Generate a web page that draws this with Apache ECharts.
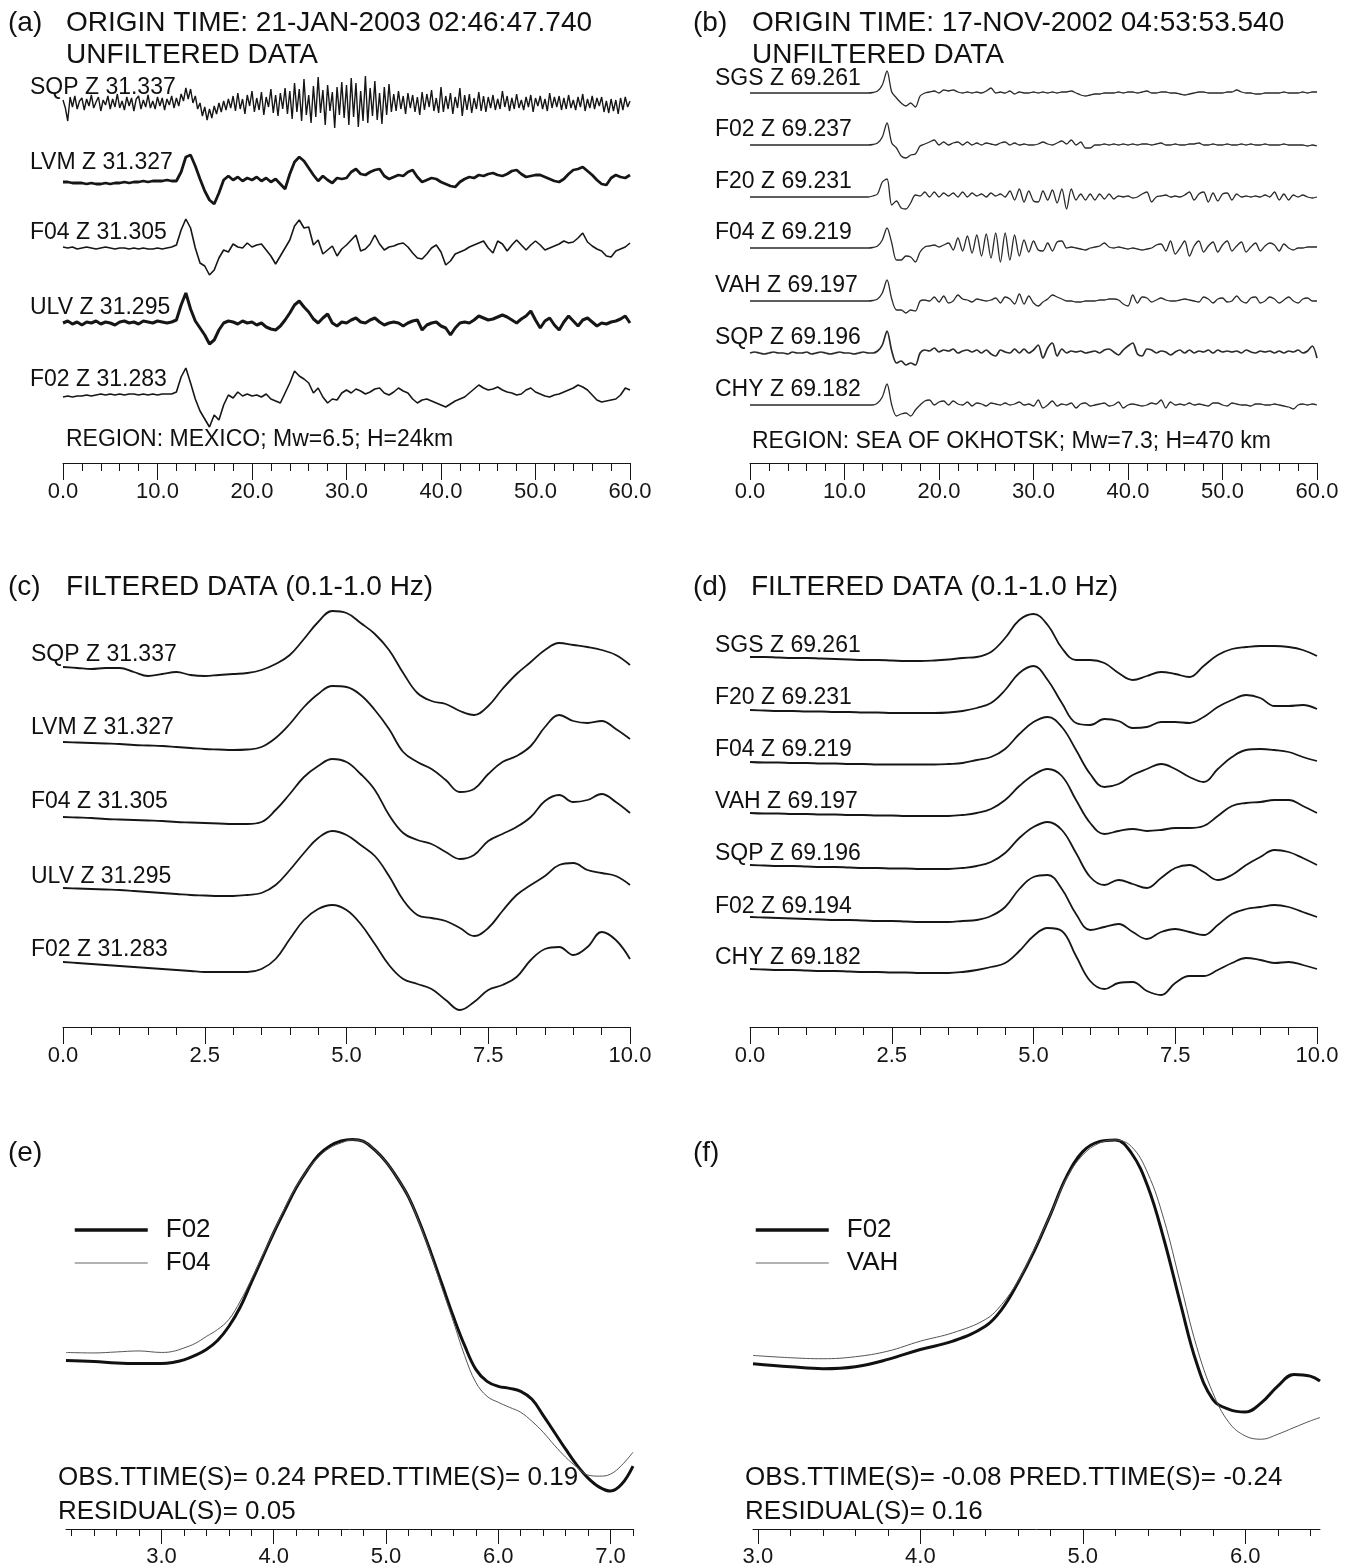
<!DOCTYPE html>
<html><head><meta charset="utf-8">
<script src="https://cdn.jsdelivr.net/npm/echarts@6/dist/echarts.min.js"></script>
<style>html,body{margin:0;padding:0;background:#fff}#c{width:1349px;height:1568px}</style>
</head><body><div id="c"></div><script>
// ---------------- DATA ----------------
// Panel (a) unfiltered, Mexico event; amplitudes (relative, up = positive); t from 0 s
const aStations = ['SQP Z 31.337','LVM Z 31.327','F04 Z 31.305','ULV Z 31.295','F02 Z 31.283'];
const aStep = 0.5, aSqpStep = 0.25;
const a_SQP = [3,-5,-18,6,-4,7,-6,2,5,-7,4,-3,8,-5,1,6,-8,3,-2,7,-6,4,-4,9,-5,2,-7,6,-3,5,-8,4,7,-6,3,-4,8,-5,2,-6,6,-3,5,-7,4,-2,7,-5,
5,-3,9,2,15,4,14,0,7,-6,0,-13,-4,-17,-6,-15,-3,-11,0,-9,2,-7,4,-5,
7,-8,10,-6,4,-11,8,-3,12,-9,5,-7,11,-12,6,-4,14,-10,8,-13,10,-6,15,-11,
12,-16,20,-9,14,-18,24,-12,8,-20,17,-14,26,-10,13,-22,18,-8,11,-25,16,-12,21,-15,
18,-22,25,-14,20,-24,12,-18,27,-20,15,-13,22,-17,10,-21,16,-12,19,-9,
9,-8,12,-6,7,-11,10,-5,8,-9,6,-12,11,-7,9,-4,13,-8,5,-10,16,-9,7,-6,10,-11,6,-5,15,-13,8,-7,9,-10,5,-6,11,-8,7,-9,
6,-5,8,-7,4,-6,12,-4,7,-8,5,-6,9,-5,3,-7,6,-4,8,-9,5,-3,7,-6,4,-8,10,-5,6,-4,7,-7,5,-6,8,-5,3,-7,6,-4,9,-8,4,-5,7,-6,5,-3,6,-9,2,-10,4,-8,3,-11,5,-7,6,-4,2];
const a_LVM = [0,0,-1,-1,-1,-2,-1,-2,-2,-1,-2,-1,-1,0,-1,0,0,1,0,1,1,1,2,1,
1,10,25,27,16,3,-9,-18,-22,-11,2,6,2,5,1,4,2,5,1,4,0,3,-2,-7,8,20,25,21,14,7,1,6,2,-1,4,3,
4,10,13,8,7,10,12,13,6,3,5,7,6,10,12,5,0,2,4,3,0,-2,-4,-5,0,3,5,4,7,6,8,9,7,6,8,11,12,8,5,6,7,7,5,3,1,0,3,8,12,13,15,11,7,2,-2,-3,4,7,5,4,7];
const a_F04 = [1,0,1,-1,0,1,0,-1,0,1,0,-1,0,0,-1,0,-1,0,-1,-1,0,-1,0,1,
3,18,29,20,0,-15,-18,-27,-22,-10,-2,-4,4,1,0,5,1,3,4,-2,-8,-16,-8,0,8,22,28,20,21,3,8,-6,-2,2,-8,-1,
3,8,13,-3,-1,4,13,4,-2,1,2,4,5,1,-5,-10,-11,-6,0,3,-4,-17,-13,-6,-4,-2,1,3,5,7,0,-5,7,4,-3,3,8,3,-2,3,7,3,-2,0,2,4,7,5,6,10,15,6,2,-1,-3,-8,-9,-3,-1,1,5];
const a_ULV = [0,2,-1,1,-2,1,0,2,-1,1,0,-2,1,2,0,1,-1,2,1,0,2,1,0,1,
3,18,30,14,2,-5,-12,-21,-17,-7,0,2,1,-1,2,0,1,-2,0,-4,-6,-7,-3,3,10,18,22,16,11,4,0,5,9,0,-3,1,
0,3,5,1,0,3,5,1,-2,0,1,0,-3,0,2,3,-7,-2,0,1,-3,-5,-12,-5,0,1,0,3,7,5,3,4,6,8,6,3,0,4,7,12,3,-5,2,5,-2,-7,1,7,2,-3,3,5,1,-3,0,-1,1,2,4,7,0];
const a_F02 = [-2,-1,-2,-1,-1,0,-1,0,1,0,1,0,1,0,1,1,0,1,0,1,0,1,1,1,
3,18,27,12,-4,-16,-24,-32,-20,-25,-10,0,-3,3,-1,1,-1,0,-2,1,-4,-6,-8,2,12,24,19,16,12,2,7,-2,-8,-4,-5,2,
5,2,6,4,1,3,6,7,2,0,3,7,4,2,-4,-8,-5,-4,-6,-8,-10,-12,-9,-6,-4,-2,2,6,10,7,5,6,8,5,3,2,0,1,5,7,3,1,-1,-2,0,1,3,5,7,10,8,5,0,-5,-7,-6,-5,-4,0,7,5];

// Panel (b) unfiltered, Sea of Okhotsk event; t from 0 s, step 0.5 s
const bStations = ['SGS Z 69.261','F02 Z 69.237','F20 Z 69.231','F04 Z 69.219','VAH Z 69.197','SQP Z 69.196','CHY Z 69.182'];
const bStep = 0.5;
const b_SGS = [0,0,0,0,0,0,0,0,0,0,0,0,0,0,0,0,0,0,0,0,0,0,0,0,0,0,
0.5,2,8,22,1,-5,-10,-13,-10,-14,-3,0,1,2,0,3,2,3,1,0,1,0,1,0,2,5,0,1,0,2,-1,1,0,0,
1,0,1,0,1,0,1,1,2,0,-2,-3,-2,-1,-1,0,0,0,1,0,1,1,0,1,2,0,0,1,1,0,0,-1,-2,-1,0,1,1,0,0,0,0,1,1,3,1,0,0,-1,-1,0,0,0,0,1,0,0,0,1,0,1,1];
const b_F02 = [0,0,0,0,0,0,0,0,0,0,0,0,0,0,0,0,0,0,0,0,0,0,0,0,0,0,
0.5,2,8,22,2,-3,-11,-13,-10,-9,-1,1,3,5,0,3,0,2,3,0,3,0,2,0,2,1,0,2,3,0,2,0,1,0,
0,1,3,1,0,2,4,1,5,0,3,-3,-3,0,0,1,0,1,0,1,0,1,0,1,1,0,1,2,0,0,1,0,0,1,1,2,0,0,1,0,0,1,0,0,1,0,1,0,0,1,0,0,0,1,0,0,0,0,-1,0,-1];
const b_F20 = [0,0,0,0,0,0,0,0,0,0,0,0,0,0,0,0,0,0,0,0,0,0,0,0,0,0,
1,3,15,18,-8,-4,-11,-12,-6,2,1,5,0,5,0,4,1,4,0,5,0,4,1,3,0,4,1,3,0,6,-3,8,-5,6,
-4,-5,6,-3,7,-6,8,-12,8,-3,3,-3,3,-3,3,-2,3,-2,1,0,1,-1,0,3,5,-5,0,1,2,0,1,0,2,5,-3,3,5,-5,4,-4,3,4,-3,3,0,1,0,1,0,2,0,5,-3,3,-3,2,0,2,0,-1,0];
const b_F04 = [0,0,0,0,0,0,0,0,0,0,0,0,0,0,0,0,0,0,0,0,0,0,0,0,0,0,
0.5,2,8,20,5,-12,-12,-8,-9,-14,-4,1,2,3,1,3,5,-2,10,-3,12,-5,13,-8,14,-10,15,-14,15,-12,13,-8,8,-4,
7,-2,-3,5,-3,6,7,0,1,0,-1,-2,0,1,2,5,1,0,1,0,-1,0,-1,-2,-1,0,3,4,-3,7,-6,0,7,-8,2,7,-4,2,6,-4,3,7,-3,2,6,-4,1,5,-3,2,5,3,-3,4,0,-2,0,0,1,1,1];
const b_VAH = [0,0,0,0,0,0,0,0,0,0,0,0,0,0,0,0,0,0,0,0,0,0,0,0,0,0,
0.5,2,8,21,2,-9,-9,-12,-9,-10,0,1,0,4,-1,5,-2,0,6,2,1,-1,2,1,0,1,3,-2,4,2,-3,7,-3,5,
-2,-5,-1,2,6,4,2,0,0,-1,-1,0,0,0,1,1,2,2,1,-3,-5,6,-2,4,3,-1,1,3,1,0,0,1,2,1,0,-1,4,2,-2,2,3,-1,0,5,0,-2,3,4,-2,0,4,2,-2,1,4,0,-2,2,3,0,0];
const b_SQP = [0,1,0,-1,0,1,0,0,-1,1,0,0,1,-1,0,1,0,-1,0,1,0,0,-1,0,1,0,
0,2,8,22,2,-10,-8,-12,-10,-12,0,3,2,5,1,3,2,4,0,2,3,1,3,0,3,-1,-3,3,1,0,4,0,4,0,
3,8,-5,5,10,-3,4,0,2,1,2,0,1,2,0,3,4,1,-2,3,7,10,-1,-3,4,3,0,2,1,-2,1,3,0,3,0,2,1,3,0,3,1,2,1,2,0,3,1,0,2,1,2,0,2,0,2,1,3,0,2,7,-5];
const b_CHY = [0,0,0,0,0,0,0,0,0,0,0,0,0,0,0,0,0,0,0,0,0,0,0,0,0,0,
0,2,8,21,0,-11,-9,-8,-11,-5,0,4,5,0,3,4,0,4,1,0,3,-1,2,1,-1,2,1,0,2,0,1,3,0,1,
-1,5,-3,0,4,-1,1,0,2,-3,1,2,-1,0,1,2,-1,0,3,-3,0,1,0,-1,0,2,1,5,-3,3,0,1,0,2,0,1,0,-1,2,2,0,-1,2,1,0,0,-1,1,1,0,0,1,0,-1,-2,-4,0,1,0,1,0];

// Panel (c) filtered, Mexico; t from 0 s, step 0.25 s
const cStations = ['SQP Z 31.337','LVM Z 31.327','F04 Z 31.305','ULV Z 31.295','F02 Z 31.283'];
const cStep = 0.25;
const c_SQP = [0,-1,-2,-1,-1,-5,-9,-7,-5,-8,-9,-8,-7,-6,-3,3,12,28,45,56,54,44,33,17,-6,-26,-34,-37,-44,-48,-39,-22,-7,5,17,24,22,20,17,12,2];
const c_LVM = [0,-0.5,-1,-1.5,-2,-3,-3.5,-4,-5,-6,-7,-7.5,-8,-7.5,-5,4,18,35,48,56,55,47,32,13,-10,-20,-27,-38,-50,-47,-32,-20,-14,-4,15,27,21,19,21,13,3];
const c_F04 = [0,-0.5,-1,-2,-2.5,-3,-3.5,-4,-5,-5.5,-6,-6.5,-7,-7,-5,7,23,40,51,58,55,43,27,2,-16,-23,-27,-35,-42,-38,-24,-17,-10,0,16,22,15,17,23,15,4];
const c_ULV = [0,-0.5,-1,-1.5,-2,-3,-4,-5,-6,-7,-7.5,-8,-8,-7,-5,3,18,35,50,57,53,43,32,12,-12,-27,-30,-33,-40,-48,-40,-23,-7,3,12,23,25,18,15,12,3];
const c_F02 = [0,-1,-2,-3,-4,-5,-6,-7,-8,-9,-10,-10,-10,-10,-7,3,23,42,53,57,52,38,18,-3,-17,-22,-27,-38,-48,-40,-28,-23,-15,2,13,15,7,15,30,22,3];

// Panel (d) filtered, Sea of Okhotsk; t from 0 s, step 0.25 s
const dStations = ['SGS Z 69.261','F20 Z 69.231','F04 Z 69.219','VAH Z 69.197','SQP Z 69.196','F02 Z 69.194','CHY Z 69.182'];
const dStep = 0.25;
const d_SGS = [0,0,-0.5,-1,-1,-1.5,-2,-2.5,-3,-3,-3.5,-4,-4,-3.5,-2.5,-1,0,5,19,37,43,32,9,-3,-3,-6,-16,-23,-19,-15,-17,-20,-9,2,8,10,11,11,10,7,1];
const d_F20 = [0,-0.5,-1,-1,-1.5,-1.5,-2,-2,-2.5,-2.5,-3,-3,-3,-3,-2.5,-1,2,7,20,37,44,30,7,-13,-15,-9,-11,-18,-17,-12,-12,-13,-7,3,10,15,12,4,4,5,1];
const d_F04 = [0,-0.5,-0.5,-1,-1,-1.5,-1.5,-2,-2,-2.5,-2.5,-2.5,-2.5,-2.5,-2,-1,2,5,13,28,40,45,35,12,-12,-25,-22,-13,-7,-2,-7,-15,-20,-7,5,12,13,12,10,5,1];
const d_VAH = [0,-0.5,-0.5,-1,-1,-1.5,-1.5,-2,-2,-2.5,-2.5,-3,-3,-3,-3,-2,0,4,13,27,38,44,37,13,-10,-21,-18,-16,-18,-17,-15,-15,-13,-3,7,10,11,13,13,7,0];
const d_SQP = [0,-0.5,-1,-1,-1.5,-2,-2,-2.5,-3,-3,-3.5,-3.5,-4,-4,-4,-3,-1,3,12,27,38,43,35,12,-12,-20,-15,-19,-23,-13,-3,0,-7,-15,-10,0,8,15,13,7,0];
const d_F02 = [0,-0.5,-1,-1.5,-2,-2.5,-3,-3,-3.5,-4,-4,-4.5,-5,-5,-5,-4,-3,1,10,28,40,42,28,3,-13,-10,-7,-15,-22,-15,-12,-15,-18,-8,3,8,10,12,10,5,0];
const d_CHY = [0,-0.5,-1,-1,-1.5,-2,-2,-2.5,-3,-3,-3.5,-3.5,-4,-4,-4,-3,-1,2,6,18,33,41,38,13,-12,-20,-14,-13,-22,-26,-14,-7,-7,-1,6,11,9,6,7,4,0];

// Panel (e) waveform comparison F02 vs F04
const eTimes = [2.15,2.4,2.6,2.8,3.0,3.1,3.2,3.3,3.4,3.5,3.6,3.7,3.8,3.9,4.0,4.1,4.2,4.3,4.4,4.5,4.6,4.7,4.8,4.9,5.0,5.1,5.2,5.3,5.4,5.5,5.6,5.7,5.8,5.9,6.0,6.1,6.2,6.3,6.4,6.5,6.6,6.7,6.8,6.9,7.0,7.1,7.2];
const e_F02 = [169,168,166.5,166,166,167,169.5,174,180,189,203,222,247,272,297,320,342,360,375,384,389,390.5,388.5,380,368,352,333,307,277,245,213,184,160,148,143,141,138,130,114,97,80,64,51,42,38,45,63];
const e_F04 = [177,176.5,177.5,178.5,177,178,181.5,186,193,200,210,228,250,274,298,322,343,360,373,382,387,390,388.5,380,368,352,333,306,275,241,208,174,147,133,127,122,117,108,97,84,72,62,54,53,55,64,77];
const eTickLabels = [3.0,4.0,5.0,6.0,7.0];
// Panel (f) waveform comparison F02 vs VAH
const fTimes = [2.97,3.2,3.4,3.6,3.8,4.0,4.2,4.4,4.5,4.6,4.7,4.8,4.9,5.0,5.1,5.2,5.3,5.4,5.5,5.6,5.7,5.8,5.9,6.0,6.1,6.2,6.3,6.4,6.46];
const f_F02 = [165.7,162.7,160.7,162.7,170,180,188.3,203.3,220,246.7,278.3,315,353.3,378.3,388.3,390,376.7,343.3,290,226.7,166.7,130,120,117.3,126.7,143.3,155,153.3,148.3];
const f_VAH = [174,171.7,170.7,172.7,178.3,188.3,196.7,210,225,248.3,280,315,351.7,375,386.7,390,383.3,356.7,310,246.7,183.3,136.7,106.7,93.3,90,95,101.7,108.3,111.7];
const fTickLabels = [3.0,4.0,5.0,6.0];

// ---------------- CHART ----------------
const FONT = '"Liberation Sans", Arial, Helvetica, sans-serif';
const INK = '#161616';
const chart = echarts.init(document.getElementById('c'), null, {renderer: 'canvas'});
const series = [];
function addTrace(name, arr, t0, dt, base, xi, yi, width, smooth, color) {
  const c = color || INK;
  series.push({
    name, type: 'line', xAxisIndex: xi, yAxisIndex: yi,
    data: arr.map((v, i) => [t0 + i * dt, base + v]),
    symbol: 'none', showSymbol: false, silent: true, clip: false,
    smooth: smooth || false, lineStyle: {color: c, width}, itemStyle: {color: c},
    emphasis: {disabled: true}
  });
}
function addXY(name, xs, ys, xi, yi, width, color) {
  series.push({
    name, type: 'line', xAxisIndex: xi, yAxisIndex: yi,
    data: xs.map((x, i) => [x, ys[i]]),
    symbol: 'none', showSymbol: false, silent: true, clip: false,
    smooth: 0.4, lineStyle: {color, width}, itemStyle: {color}, emphasis: {disabled: true}
  });
}
// (a)
const aBase = [360, 281, 215, 140, 68];
addTrace('a SQP', a_SQP, 0, aSqpStep, aBase[0], 0, 0, 1.4);
addTrace('a LVM', a_LVM, 0, aStep, aBase[1], 0, 0, 2.8);
addTrace('a F04', a_F04, 0, aStep, aBase[2], 0, 0, 1.6);
addTrace('a ULV', a_ULV, 0, aStep, aBase[3], 0, 0, 3);
addTrace('a F02', a_F02, 0, aStep, aBase[4], 0, 0, 1.6);
// (b)
const bBase = [370, 318, 266, 215, 162, 110, 58];
[b_SGS, b_F02, b_F20, b_F04, b_VAH, b_SQP, b_CHY].forEach((arr, k) =>
  addTrace('b ' + bStations[k], arr, 0, bStep, bBase[k], 1, 1, k === 5 ? 1.7 : 1.3, 0.3, '#2a2a2a'));
// (c)
const cBase = [360, 285, 210, 139, 65];
[c_SQP, c_LVM, c_F04, c_ULV, c_F02].forEach((arr, k) =>
  addTrace('c ' + cStations[k], arr, 0, cStep, cBase[k], 2, 2, 1.8, 0.4));
// (d)
const dBase = [370, 317, 265, 214, 162, 110, 58];
[d_SGS, d_F20, d_F04, d_VAH, d_SQP, d_F02, d_CHY].forEach((arr, k) =>
  addTrace('d ' + dStations[k], arr, 0, dStep, dBase[k], 3, 3, 1.8, 0.4));
// (e), (f)
addXY('F02', eTimes, e_F02, 4, 4, 3, '#111');
addXY('F04', eTimes, e_F04, 4, 4, 1, '#555');
addXY('F02', fTimes, f_F02, 6, 5, 3, '#111');
addXY('VAH', fTimes, f_VAH, 6, 5, 1, '#555');

function timeAxis(grid, min, max, interval) {
  return {
    type: 'value', gridIndex: grid, min, max, interval, position: 'bottom',
    axisLine: {show: true, onZero: false, lineStyle: {color: INK, width: 1}},
    axisTick: {show: true, length: 17, lineStyle: {color: INK, width: 1}},
    minorTick: {show: true, splitNumber: 5, length: 8, lineStyle: {color: INK, width: 1}},
    splitLine: {show: false}, minorSplitLine: {show: false},
    axisLabel: {show: true, margin: 18, fontSize: 22, fontFamily: FONT, color: INK,
      formatter: v => v.toFixed(1), showMinLabel: true, showMaxLabel: true}
  };
}
function ticksBetween(a5, b5) { const r = []; for (let k = a5; k <= b5; k++) r.push(k / 5); return r; }
function minorAxis(grid, min, max, ticks) {
  return {
    type: 'value', gridIndex: grid, min, max, position: 'bottom', offset: 0,
    axisLine: {show: true, onZero: false, lineStyle: {color: INK, width: 1}},
    axisTick: {show: true, length: 7, customValues: ticks, lineStyle: {color: INK, width: 1}},
    axisLabel: {show: false}, splitLine: {show: false}
  };
}
function majorAxis(grid, min, max, labels) {
  return {
    type: 'value', gridIndex: grid, min, max, position: 'bottom', offset: 0,
    axisLine: {show: false, onZero: false},
    axisTick: {show: true, length: 15, customValues: labels, lineStyle: {color: INK, width: 1}},
    axisLabel: {show: true, customValues: labels, margin: 17, fontSize: 22, fontFamily: FONT, color: INK,
      formatter: v => v.toFixed(1)},
    splitLine: {show: false}
  };
}

function txt(x, y, text, size) {
  return {type: 'text', x, y, silent: true, z: 50,
    style: {text, fontSize: size, fontFamily: FONT, fill: '#111', textAlign: 'left', textVerticalAlign: 'middle'}};
}
const graphics = [
  txt(8, 23, '(a)', 28), txt(66, 23, 'ORIGIN TIME: 21-JAN-2003 02:46:47.740', 28), txt(66, 55, 'UNFILTERED DATA', 28),
  txt(693, 23, '(b)', 28), txt(752, 23, 'ORIGIN TIME: 17-NOV-2002 04:53:53.540', 28), txt(752, 55, 'UNFILTERED DATA', 28),
  txt(66, 440, 'REGION: MEXICO; Mw=6.5; H=24km', 23),
  txt(752, 442, 'REGION: SEA OF OKHOTSK; Mw=7.3; H=470 km', 23),
  txt(8, 587, '(c)', 28), txt(66, 587, 'FILTERED DATA (0.1-1.0 Hz)', 28),
  txt(693, 587, '(d)', 28), txt(751, 587, 'FILTERED DATA (0.1-1.0 Hz)', 28),
  txt(8, 1153, '(e)', 28), txt(693, 1153, '(f)', 28),
  txt(58, 1478, 'OBS.TTIME(S)= 0.24 PRED.TTIME(S)= 0.19', 26), txt(58, 1512, 'RESIDUAL(S)= 0.05', 26),
  txt(745, 1478, 'OBS.TTIME(S)= -0.08 PRED.TTIME(S)= -0.24', 26), txt(745, 1512, 'RESIDUAL(S)= 0.16', 26)
];
[88, 163, 233, 308, 380].forEach((y, k) => graphics.push(txt(30, y, aStations[k], 23)));
[79, 130, 182, 233, 286, 338, 390].forEach((y, k) => graphics.push(txt(715, y, bStations[k], 23)));
[655, 728, 802, 877, 950].forEach((y, k) => graphics.push(txt(31, y, cStations[k], 23)));
[646, 698, 750, 802, 854, 907, 958].forEach((y, k) => graphics.push(txt(715, y, dStations[k], 23)));

const legendCommon = {orient: 'vertical', top: 1217, padding: 0, itemWidth: 73, itemHeight: 20, itemGap: 7, selectedMode: false,
  itemStyle: {opacity: 0, borderWidth: 0},
  textStyle: {fontSize: 26, fontFamily: FONT, color: '#111', padding: [0, 0, 0, 13]}};
const thickItem = name => ({name, itemStyle: {opacity: 0}, lineStyle: {width: 3.5, color: '#111'}});
const thinItem = name => ({name, itemStyle: {opacity: 0}, lineStyle: {width: 1.2, color: '#666'}});

chart.setOption({
  animation: false,
  backgroundColor: '#fff',
  grid: [
    {left: 63, top: 60, width: 567, height: 403},
    {left: 750, top: 60, width: 567, height: 403},
    {left: 63, top: 580, width: 567, height: 447},
    {left: 750, top: 580, width: 567, height: 447},
    {left: 66, top: 1130, width: 567, height: 400},
    {left: 753, top: 1130, width: 567, height: 400}
  ],
  xAxis: [
    timeAxis(0, 0, 60, 10), timeAxis(1, 0, 60, 10), timeAxis(2, 0, 10, 2.5), timeAxis(3, 0, 10, 2.5),
    minorAxis(4, 2.15, 7.2, ticksBetween(11, 36)), majorAxis(4, 2.15, 7.2, eTickLabels),
    minorAxis(5, 2.97, 6.46, ticksBetween(15, 32)), majorAxis(5, 2.97, 6.46, fTickLabels)
  ],
  yAxis: [
    {type: 'value', gridIndex: 0, min: 0, max: 403, show: false},
    {type: 'value', gridIndex: 1, min: 0, max: 403, show: false},
    {type: 'value', gridIndex: 2, min: 0, max: 447, show: false},
    {type: 'value', gridIndex: 3, min: 0, max: 447, show: false},
    {type: 'value', gridIndex: 4, min: 0, max: 400, show: false},
    {type: 'value', gridIndex: 5, min: 0, max: 400, show: false}
  ],
  legend: [
    Object.assign({left: 73, data: [thickItem('F02'), thinItem('F04')]}, legendCommon),
    Object.assign({left: 754, data: [thickItem('F02'), thinItem('VAH')]}, legendCommon)
  ],
  graphic: graphics,
  series
});
</script></body></html>
